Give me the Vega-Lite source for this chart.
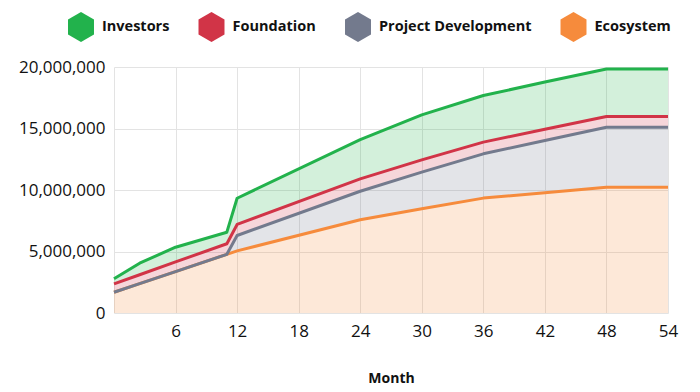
{
  "$schema": "https://vega.github.io/schema/vega-lite/v6.json",
  "width": 554,
  "height": 246,
  "autosize": {"type": "none"},
  "padding": {"left": 114, "top": 67, "right": 32, "bottom": 79},
  "background": "white",
  "config": {"font": "Open Sans", "view": {"stroke": null}},
  "data": {
    "values": [
      {"month": 0, "series": "Ecosystem", "value": 1690000},
      {"month": 2.5, "series": "Ecosystem", "value": 2390000},
      {"month": 6, "series": "Ecosystem", "value": 3370000},
      {"month": 11, "series": "Ecosystem", "value": 4770000},
      {"month": 12, "series": "Ecosystem", "value": 5050000},
      {"month": 24, "series": "Ecosystem", "value": 7580000},
      {"month": 30, "series": "Ecosystem", "value": 8470000},
      {"month": 36, "series": "Ecosystem", "value": 9340000},
      {"month": 42, "series": "Ecosystem", "value": 9780000},
      {"month": 48, "series": "Ecosystem", "value": 10230000},
      {"month": 54, "series": "Ecosystem", "value": 10230000},
      {"month": 0, "series": "Project Development", "value": 0},
      {"month": 2.5, "series": "Project Development", "value": 0},
      {"month": 6, "series": "Project Development", "value": 0},
      {"month": 11, "series": "Project Development", "value": 0},
      {"month": 12, "series": "Project Development", "value": 1250000},
      {"month": 24, "series": "Project Development", "value": 2320000},
      {"month": 30, "series": "Project Development", "value": 2980000},
      {"month": 36, "series": "Project Development", "value": 3600000},
      {"month": 42, "series": "Project Development", "value": 4240000},
      {"month": 48, "series": "Project Development", "value": 4870000},
      {"month": 54, "series": "Project Development", "value": 4870000},
      {"month": 0, "series": "Foundation", "value": 680000},
      {"month": 2.5, "series": "Foundation", "value": 720000},
      {"month": 6, "series": "Foundation", "value": 780000},
      {"month": 11, "series": "Foundation", "value": 860000},
      {"month": 12, "series": "Foundation", "value": 900000},
      {"month": 24, "series": "Foundation", "value": 1000000},
      {"month": 30, "series": "Foundation", "value": 1000000},
      {"month": 36, "series": "Foundation", "value": 950000},
      {"month": 42, "series": "Foundation", "value": 920000},
      {"month": 48, "series": "Foundation", "value": 880000},
      {"month": 54, "series": "Foundation", "value": 880000},
      {"month": 0, "series": "Investors", "value": 410000},
      {"month": 2.5, "series": "Investors", "value": 940000},
      {"month": 6, "series": "Investors", "value": 1200000},
      {"month": 11, "series": "Investors", "value": 940000},
      {"month": 12, "series": "Investors", "value": 2130000},
      {"month": 24, "series": "Investors", "value": 3190000},
      {"month": 30, "series": "Investors", "value": 3660000},
      {"month": 36, "series": "Investors", "value": 3790000},
      {"month": 42, "series": "Investors", "value": 3840000},
      {"month": 48, "series": "Investors", "value": 3850000},
      {"month": 54, "series": "Investors", "value": 3850000}
    ]
  },
  "transform": [
    {"calculate": "indexof(['Ecosystem','Project Development','Foundation','Investors'], datum.series)", "as": "stackRank"}
  ],
  "mark": {"type": "area", "fillOpacity": 0.2, "line": {"strokeWidth": 3, "strokeJoin": "round"}},
  "encoding": {
    "x": {
      "field": "month",
      "type": "quantitative",
      "scale": {"domain": [0, 54], "nice": false},
      "axis": {
        "values": [0, 6, 12, 18, 24, 30, 36, 42, 48, 54],
        "labelExpr": "datum.value == 0 ? '' : datum.label",
        "labelFlush": false,
        "title": "Month",
        "titleFont": "Open Sans",
        "titleFontWeight": "bold",
        "titleFontSize": 14,
        "titleColor": "#111111",
        "titlePadding": 32,
        "domain": false,
        "ticks": false,
        "labelFont": "Open Sans",
        "labelFontSize": 17,
        "labelColor": "#111111",
        "labelPadding": 10,
        "gridColor": "#e3e3e3",
        "gridWidth": 1
      }
    },
    "y": {
      "field": "value",
      "type": "quantitative",
      "stack": "zero",
      "scale": {"domain": [0, 20000000], "nice": false},
      "axis": {
        "values": [0, 5000000, 10000000, 15000000, 20000000],
        "format": ",d",
        "labelFlush": false,
        "title": null,
        "domain": false,
        "ticks": false,
        "labelFont": "Open Sans",
        "labelFontSize": 17,
        "labelColor": "#111111",
        "labelPadding": 9,
        "gridColor": "#e3e3e3",
        "gridWidth": 1
      }
    },
    "color": {
      "field": "series",
      "type": "nominal",
      "scale": {
        "domain": ["Investors", "Foundation", "Project Development", "Ecosystem"],
        "range": ["#22b24c", "#d13447", "#737a8d", "#f68b3c"]
      },
      "legend": {
        "orient": "none",
        "legendX": -48,
        "legendY": -55,
        "direction": "horizontal",
        "title": null,
        "padding": 0,
        "symbolType": "M0,-1L0.866,-0.5L0.866,0.5L0,1L-0.866,0.5L-0.866,-0.5Z",
        "symbolSize": 900,
        "symbolOpacity": 1,
        "symbolStrokeWidth": 0,
        "labelFont": "Open Sans",
        "labelFontWeight": "bold",
        "labelFontSize": 14.5,
        "labelColor": "#111111",
        "labelOffset": 6,
        "columnPadding": 26.5,
        "labelLimit": 300,
        "encode": {"symbols": {"update": {"fillOpacity": {"value": 1}, "strokeWidth": {"value": 0}}}}
      }
    },
    "order": {"field": "stackRank", "type": "quantitative", "sort": "ascending"}
  }
}
